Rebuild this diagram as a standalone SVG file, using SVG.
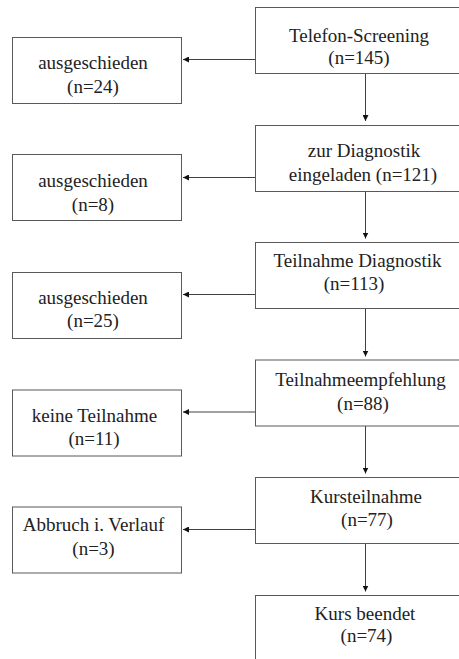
<svg xmlns="http://www.w3.org/2000/svg" width="459" height="659" viewBox="0 0 459 659">
<defs>
<style>
.box{fill:#fff;stroke:#595959;stroke-width:1}
.c{stroke:#404040;stroke-width:1;fill:none}
</style>
<marker id="ah" viewBox="0 0 10 10" refX="10" refY="5" markerWidth="6" markerHeight="6" markerUnits="userSpaceOnUse" orient="auto">
<path d="M0,0 L10,5 L0,10 z" fill="#111"/>
</marker>
</defs>
<rect width="459" height="659" fill="#fff"/>
<g id="connectors">
<line class="c" x1="255" y1="59.5" x2="183" y2="59.5" marker-end="url(#ah)"/>
<line class="c" x1="255" y1="177.5" x2="183" y2="177.5" marker-end="url(#ah)"/>
<line class="c" x1="255" y1="294.5" x2="183" y2="294.5" marker-end="url(#ah)"/>
<line class="c" x1="255" y1="412" x2="183" y2="412" marker-end="url(#ah)"/>
<line class="c" x1="255" y1="529.5" x2="183" y2="529.5" marker-end="url(#ah)"/>
<line class="c" x1="365.5" y1="73.5" x2="365.5" y2="121" marker-end="url(#ah)"/>
<line class="c" x1="365.5" y1="191.5" x2="365.5" y2="238.5" marker-end="url(#ah)"/>
<line class="c" x1="365.5" y1="308.5" x2="365.5" y2="356.5" marker-end="url(#ah)"/>
<line class="c" x1="365.5" y1="426" x2="365.5" y2="473.5" marker-end="url(#ah)"/>
<line class="c" x1="365.5" y1="543.5" x2="365.5" y2="591.5" marker-end="url(#ah)"/>
</g>
<g font-family="Liberation Serif, Times New Roman, DejaVu Serif, serif" font-size="19" fill="#222" text-anchor="middle">
<g id="n1"><rect class="box" x="255.5" y="7.5" width="220" height="66"/><text x="359" y="41.5">Telefon-Screening</text><text x="359" y="64">(n=145)</text></g>
<g id="n2"><rect class="box" x="255.5" y="125.5" width="220" height="66"/><text x="364" y="157">zur Diagnostik</text><text x="363" y="181">eingeladen (n=121)</text></g>
<g id="n3"><rect class="box" x="255.5" y="242.5" width="220" height="66"/><text x="357.5" y="267">Teilnahme Diagnostik</text><text x="354" y="290">(n=113)</text></g>
<g id="n4"><rect class="box" x="255.5" y="360" width="220" height="66"/><text x="360.5" y="385.5">Teilnahmeempfehlung</text><text x="363" y="409.5">(n=88)</text></g>
<g id="n5"><rect class="box" x="255.5" y="477.5" width="220" height="66"/><text x="366" y="502.5">Kursteilnahme</text><text x="367" y="526">(n=77)</text></g>
<g id="n6"><rect class="box" x="255.5" y="595.5" width="220" height="80"/><text x="365" y="620">Kurs beendet</text><text x="366.5" y="642">(n=74)</text></g>
<g id="l1"><rect class="box" x="12.5" y="37.5" width="169" height="66"/><text x="93" y="68.5">ausgeschieden</text><text x="93" y="93">(n=24)</text></g>
<g id="l2"><rect class="box" x="12.5" y="154.5" width="169" height="66"/><text x="93" y="186.5">ausgeschieden</text><text x="93" y="211">(n=8)</text></g>
<g id="l3"><rect class="box" x="12.5" y="272.5" width="169" height="66"/><text x="93" y="303.5">ausgeschieden</text><text x="93" y="327">(n=25)</text></g>
<g id="l4"><rect class="box" x="12.5" y="390" width="169" height="66"/><text x="94.5" y="421.5">keine Teilnahme</text><text x="94" y="445">(n=11)</text></g>
<g id="l5"><rect class="box" x="12.5" y="507" width="169" height="66"/><text x="93.5" y="531">Abbruch i. Verlauf</text><text x="93.5" y="555">(n=3)</text></g>
</g>
</svg>
